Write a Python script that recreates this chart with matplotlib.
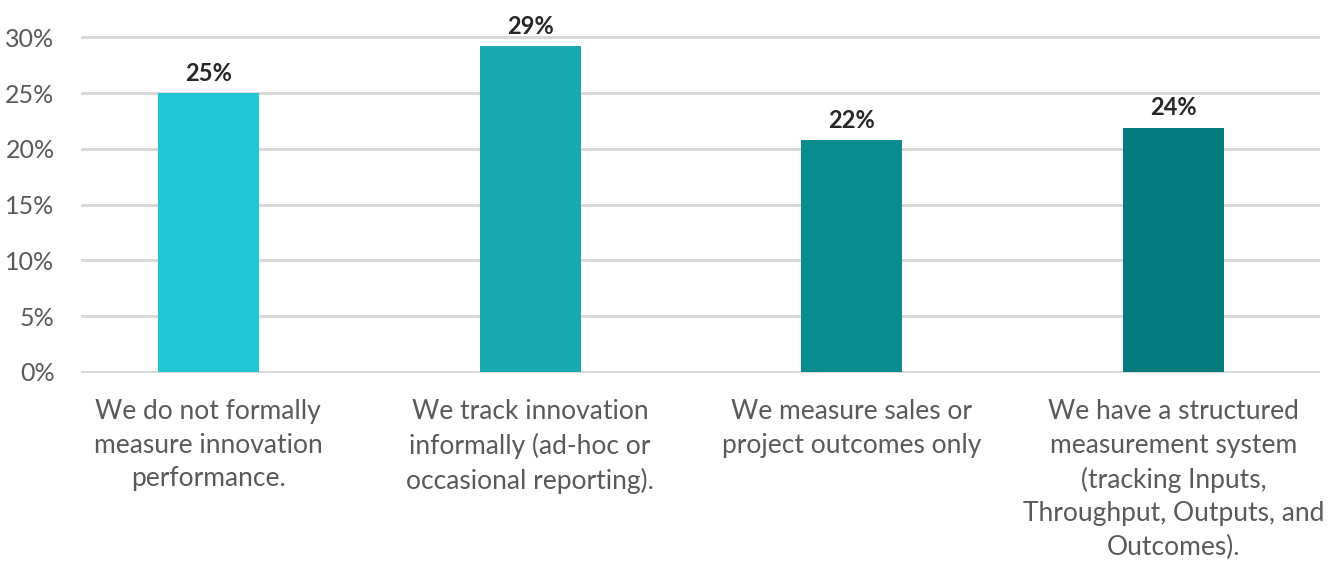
import matplotlib.pyplot as plt

categories = [
    "We do not formally\nmeasure innovation\nperformance.",
    "We track innovation\ninformally (ad-hoc or\noccasional reporting).",
    "We measure sales or\nproject outcomes only",
    "We have a structured\nmeasurement system\n(tracking Inputs,\nThroughput, Outputs, and\nOutcomes).",
]
values = [25.0, 29.2, 20.8, 21.9]
value_labels = ["25%", "29%", "22%", "24%"]
colors = ["#22C5D3", "#17A8B0", "#0A8B8D", "#037B7C"]
yticks = [0, 5, 10, 15, 20, 25, 30]

fig = plt.figure(figsize=(13.36, 5.64), dpi=100)
ax = fig.add_axes([0.0606, 0.3385, 0.9274, 0.5973])

x = range(len(categories))
bars = ax.bar(x, values, width=0.314, color=colors, zorder=3)

for b, lab in zip(bars, value_labels):
    ax.annotate(lab, (b.get_x() + b.get_width() / 2, b.get_height()),
                xytext=(0, 6), textcoords="offset points",
                ha="center", va="bottom", fontsize=17, fontfamily="Lato",
                fontweight="bold", color="#262626")

ax.set_xlim(-0.396, 3.455)
ax.set_ylim(-0.1, 30.1)
ax.set_yticks(yticks)
ax.set_yticklabels([f"{t}%" for t in yticks])
ax.set_xticks(list(x))
ax.set_xticklabels(categories, linespacing=1.42)

ax.yaxis.grid(True, color="#D9D9D9", linewidth=2.2, zorder=0)
ax.set_axisbelow(True)
for s in ax.spines.values():
    s.set_visible(False)
ax.tick_params(axis="both", length=0)
ax.tick_params(axis="y", pad=19, labelsize=18, labelcolor="#595959")
ax.tick_params(axis="x", pad=19, labelsize=19, labelcolor="#595959")
for t in ax.get_yticklabels() + ax.get_xticklabels():
    t.set_fontfamily("Lato")

fig.savefig("out.png", dpi=100, facecolor="white")
